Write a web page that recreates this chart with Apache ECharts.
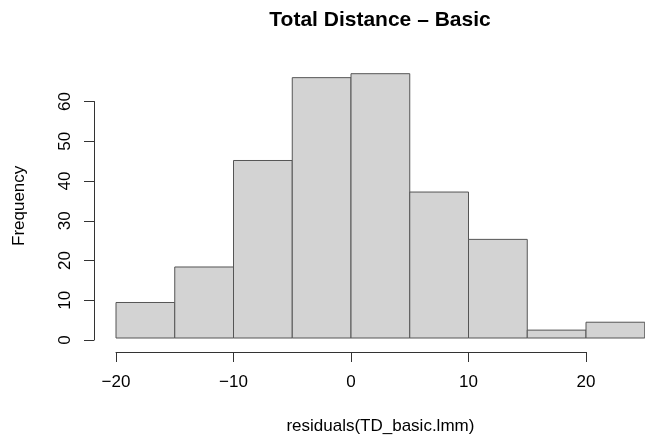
<!DOCTYPE html>
<html>
<head>
<meta charset="utf-8">
<script src="https://cdn.jsdelivr.net/npm/echarts@6/dist/echarts.min.js"></script>
<style>html,body{margin:0;padding:0;background:#fff;}#c{width:645px;height:440px;}</style>
</head>
<body>
<div id="c"></div>
<script>
var binStarts = [-20, -15, -10, -5, 0, 5, 10, 15, 20];
var binWidth = 5;
var counts = [9, 18, 45, 66, 67, 37, 25, 2, 4];
var xTicks = [-20, -10, 0, 10, 20];
var yTicks = [0, 10, 20, 30, 40, 50, 60];
var titleText = 'Total Distance \u2013 Basic';
var xLabel = 'residuals(TD_basic.lmm)';
var yLabel = 'Frequency';

var FONT = '"Liberation Sans", Arial, Helvetica, sans-serif';
var data = binStarts.map(function (s, i) { return [s, s + binWidth, counts[i]]; });

var chart = echarts.init(document.getElementById('c'), null, {renderer: 'canvas'});
chart.setOption({
  animation: false,
  backgroundColor: '#ffffff',
  graphic: [{
    type: 'text', x: 380, y: 20,
    style: {text: titleText, font: 'bold 21px ' + FONT, fill: '#000', align: 'center', verticalAlign: 'middle'}
  }],
  grid: [
    {left: 116, top: 73.7, width: 528.75, height: 266.3},
    {left: 116, top: 101.5, width: 470, height: 238.5}
  ],
  xAxis: [
    {gridIndex: 0, type: 'value', min: -20, max: 25, show: true,
     axisLine: {show: false}, axisTick: {show: false}, axisLabel: {show: false}, splitLine: {show: false},
     name: xLabel, nameLocation: 'middle', nameGap: 80,
     nameTextStyle: {fontFamily: FONT, fontSize: 17, color: '#000'}},
    {gridIndex: 1, type: 'value', min: xTicks[0], max: xTicks[xTicks.length - 1], interval: 10, offset: 12,
     axisLine: {show: true, onZero: false, lineStyle: {color: '#333', width: 1}},
     axisTick: {show: true, length: 10, inside: false, lineStyle: {color: '#333', width: 1}},
     axisLabel: {show: true, margin: 22, fontFamily: FONT, fontSize: 17, color: '#000',
       formatter: function (v) { return v < 0 ? '\u2212' + Math.abs(v) : String(v); }},
     splitLine: {show: false}}
  ],
  yAxis: [
    {gridIndex: 0, type: 'value', min: 0, max: 67, show: true,
     axisLine: {show: false}, axisTick: {show: false}, axisLabel: {show: false}, splitLine: {show: false},
     name: yLabel, nameLocation: 'middle', nameGap: 88, nameRotate: 90,
     nameTextStyle: {fontFamily: FONT, fontSize: 17, color: '#000'}},
    {gridIndex: 1, type: 'value', min: yTicks[0], max: yTicks[yTicks.length - 1], interval: 10, offset: 22,
     axisLine: {show: true, onZero: false, lineStyle: {color: '#333', width: 1}},
     axisTick: {show: true, length: 10, lineStyle: {color: '#333', width: 1}},
     axisLabel: {show: true, margin: 20, rotate: 90, fontFamily: FONT, fontSize: 17, color: '#000'},
     splitLine: {show: false}}
  ],
  series: [{
    type: 'custom',
    xAxisIndex: 0, yAxisIndex: 0,
    data: data,
    encode: {x: [0, 1], y: 2},
    renderItem: function (params, api) {
      var p0 = api.coord([api.value(0), api.value(2)]);
      var p1 = api.coord([api.value(1), 0]);
      return {
        type: 'rect',
        shape: {x: p0[0], y: p0[1], width: p1[0] - p0[0], height: p1[1] - p0[1]},
        style: {fill: '#d3d3d3', stroke: '#555555', lineWidth: 1}
      };
    }
  }]
});
</script>
</body>
</html>
